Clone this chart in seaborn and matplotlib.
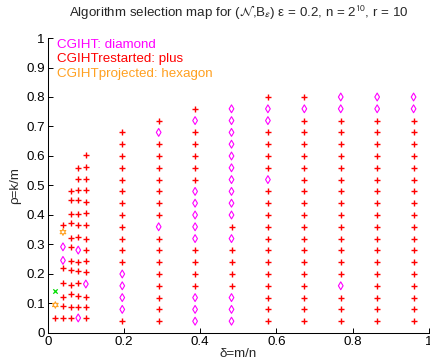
import matplotlib
matplotlib.use("Agg")
import matplotlib.pyplot as plt
import seaborn as sns
import pandas as pd

# ---------------- data ----------------
delta_cols = [0.02, 0.04, 0.06, 0.08, 0.10, 0.1955, 0.291, 0.3865, 0.482,
              0.5775, 0.673, 0.7685, 0.864, 0.9595]

rho_grid = [0.04, 0.08, 0.12, 0.16, 0.20, 0.24, 0.28, 0.32, 0.36, 0.40,
            0.44, 0.48, 0.52, 0.56, 0.60, 0.64, 0.68, 0.72, 0.76, 0.80]

rho_cols = [
    [0.050, 0.095, 0.143],
    [0.050, 0.092, 0.123, 0.171, 0.220, 0.246, 0.292, 0.342, 0.365],
    [0.050, 0.087, 0.132, 0.163, 0.212, 0.243, 0.291, 0.323, 0.373, 0.404,
     0.451, 0.483],
    [0.051, 0.089, 0.125, 0.170, 0.209, 0.242, 0.281, 0.327, 0.365, 0.404,
     0.451, 0.486, 0.523, 0.561],
    [0.051, 0.089, 0.122, 0.166, 0.206, 0.243, 0.281, 0.320, 0.367, 0.408,
     0.445, 0.484, 0.523, 0.563, 0.602],
    rho_grid[:17],
    rho_grid[:18],
    rho_grid[:19],
    rho_grid[:19],
    rho_grid,
    rho_grid,
    rho_grid,
    rho_grid,
    rho_grid,
]

# P = CGIHTrestarted (plus), D = CGIHT (diamond), H = CGIHTprojected (hexagon), X = other
alg_cols = [
    "PHX",
    "PPPPPDDHP",
    "PPPPPPPPPPPP",
    "DPPPPPDPPPPPPP",
    "PPPDPPPPPPPPPPP",
    "PDDDDPPPPPPPPPPPP",
    "PPPPPPPPDPPPPPPPDP",
    "DDDPPPPDDDDDPPPPPDP",
    "DDDPPPPDPDDDDDDDDDD",
    "PPPPPPPPPPPPDPPPPDDP",
    "PPPPPPPPPPPPPPPPPPDP",
    "PPPDPPPPPPPPPPPPPPDD",
    "PPPPPPPPPPPPPPPPPPDD",
    "PPPPPPPPPPPPPPPPPPDD",
]

legend_lines = ["CGIHT: diamond", "CGIHTrestarted: plus", "CGIHTprojected: hexagon"]
x_ticks = [0, 0.2, 0.4, 0.6, 0.8, 1]
x_ticklabels = ["0", "0.2", "0.4", "0.6", "0.8", "1"]
y_ticks = [0, 0.1, 0.2, 0.3, 0.4, 0.5, 0.6, 0.7, 0.8, 0.9, 1]
y_ticklabels = ["0", "0.1", "0.2", "0.3", "0.4", "0.5", "0.6", "0.7", "0.8", "0.9", "1"]

# ---------------- build table ----------------
rows = []
for d, rhos, algs in zip(delta_cols, rho_cols, alg_cols):
    for r, a in zip(rhos, algs):
        rows.append({"delta": d, "rho": r, "alg": a})
df = pd.DataFrame(rows)

# ---------------- style ----------------
sns.set_theme(style="white")
plt.rcParams["font.family"] = ["Liberation Sans", "DejaVu Sans"]
plt.rcParams["mathtext.fontset"] = "stixsans"

MAG = "#FF00FF"
RED = "#FF0000"
ORA = "#FFA020"
GRN = "#00DD00"

fig = plt.figure(figsize=(4.31, 3.64), dpi=100)
ax = fig.add_axes([0.1107, 0.0852, 0.8847, 0.8104])


def draw(code, marker, size, color, hollow, lw):
    sub = df[df.alg == code]
    sns.scatterplot(data=sub, x="delta", y="rho", marker=marker, s=size,
                    color=color, linewidth=lw, ax=ax, legend=False)
    coll = ax.collections[-1]
    coll.set_edgecolor(color)
    coll.set_facecolor("none" if hollow else color)
    coll.set_linewidth(lw)


draw("P", "+", 22, RED, False, 1.0)
draw("D", "d", 16, MAG, True, 0.8)
draw("H", (6, 1, 0), 22, ORA, True, 0.8)
draw("X", "x", 10, GRN, False, 0.9)

ax.set_xlim(0, 1)
ax.set_ylim(0, 1)
ax.set_xticks(x_ticks)
ax.set_xticklabels(x_ticklabels)
ax.set_yticks(y_ticks)
ax.set_yticklabels(y_ticklabels)
ax.tick_params(direction="in", length=3.5, width=0.7, labelsize=9.6,
               colors="black", pad=2, bottom=True, left=True)
for s in ["top", "right"]:
    ax.spines[s].set_visible(False)
for s in ["left", "bottom"]:
    ax.spines[s].set_color("black")
    ax.spines[s].set_linewidth(0.75)

ax.set_xlabel("δ=m/n", fontsize=9.6, labelpad=0)
ax.set_ylabel("ρ=k/m", fontsize=9.6, labelpad=4)
ax.set_title(r"Algorithm selection map for ($\mathcal{N}$,B$_{\epsilon}$) ε = 0.2, n = 2$^{10}$, r = 10",
             fontsize=9.6, pad=15)

for txt, col, yy in zip(legend_lines, [MAG, RED, ORA], [0.976, 0.928, 0.878]):
    ax.text(0.024, yy, txt, color=col, fontsize=9.6, va="center", ha="left")

fig.savefig("out.png", dpi=100)
